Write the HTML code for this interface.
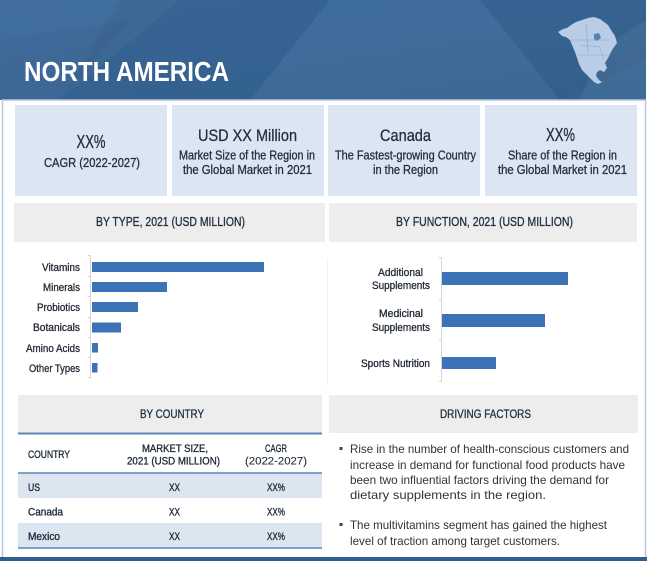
<!DOCTYPE html>
<html>
<head>
<meta charset="utf-8">
<style>
html,body{margin:0;padding:0;background:#fff;}
svg{display:block;}
text{font-family:"Liberation Sans",Arial,sans-serif;}
</style>
</head>
<body>
<svg width="650" height="567" viewBox="0 0 650 567" xmlns="http://www.w3.org/2000/svg">
  <defs>
    <linearGradient id="hg" x1="0" y1="0" x2="1" y2="1">
      <stop offset="0" stop-color="#3a699a"/>
      <stop offset="0.5" stop-color="#386797"/>
      <stop offset="1" stop-color="#33628f"/>
    </linearGradient>
  </defs>
  <rect width="650" height="567" fill="#ffffff"/>

  <!-- header banner -->
  <rect x="0" y="0" width="646" height="100" fill="url(#hg)"/>
  <polygon points="0,0 180,0 60,100 0,100" fill="#ffffff" opacity="0.04"/>
  <polygon points="120,0 330,0 250,100 60,100" fill="#000000" opacity="0.04"/>
  <polygon points="330,0 480,0 560,100 250,100" fill="#ffffff" opacity="0.035"/>
  <polygon points="480,0 646,0 646,60 560,100" fill="#000000" opacity="0.035"/>
  <polygon points="600,50 646,20 646,100 580,100" fill="#ffffff" opacity="0.06"/>
  <polygon points="0,40 130,20 60,100 0,100" fill="#000000" opacity="0.03"/>
  <text x="24" y="81" font-size="28" font-weight="bold" fill="#ffffff" textLength="205" lengthAdjust="spacingAndGlyphs">NORTH AMERICA</text>

  <!-- map -->
  <polygon points="558,32 563,29 567,28 571,25 576,22 582,20 588,18 594,17 600,19 604,22 608,25 611,30 615,36 617,43 614,47 611,52 608,58 605,63 607,68 604,72 600,70 597,72 596,76 599,80 602,82 598,84 594,82 590,78 586,74 582,70 579,64 577,58 575,52 572,45 570,40 566,37 562,36" fill="#b9cde6"/>
  <polygon points="594,34 599,33 601,38 597,41 594,39" fill="#5a82ad"/>
  <polyline points="571,40 610,40" stroke="#86a5c8" stroke-width="0.6" fill="none"/>
  <polyline points="577,55 607,55" stroke="#86a5c8" stroke-width="0.6" fill="none"/>
  <polyline points="586,24 588,52" stroke="#86a5c8" stroke-width="0.6" fill="none"/>
  <polyline points="580,45 600,47 604,60" stroke="#86a5c8" stroke-width="0.5" fill="none"/>

  <!-- outer container border -->
  <rect x="2.5" y="100" width="643" height="458" fill="none" stroke="#b4c8de" stroke-width="1.5"/>
  <!-- bottom bar -->
  <rect x="0" y="557" width="647" height="4" fill="#2f5d8e"/>

  <!-- stat boxes -->
  <rect x="15" y="105" width="152" height="91" fill="#dce6f2"/>
  <rect x="172" y="105" width="152" height="91" fill="#dce6f2"/>
  <rect x="328" y="105" width="152" height="91" fill="#dce6f2"/>
  <rect x="485" y="105" width="152" height="91" fill="#dce6f2"/>

  <g fill="#1f2f40" stroke="#1f2f40" stroke-width="0.3">
    <text x="76.5" y="148" font-size="18" textLength="29" lengthAdjust="spacingAndGlyphs">XX%</text>
    <text x="44" y="167" font-size="12.5" textLength="96" lengthAdjust="spacingAndGlyphs">CAGR (2022-2027)</text>

    <text x="198" y="141" font-size="17" textLength="99" lengthAdjust="spacingAndGlyphs">USD XX Million</text>
    <text x="179" y="159.5" font-size="12.5" textLength="136" lengthAdjust="spacingAndGlyphs">Market Size of the Region in</text>
    <text x="183" y="174" font-size="12.5" textLength="129" lengthAdjust="spacingAndGlyphs">the Global Market in 2021</text>

    <text x="380" y="141" font-size="17" textLength="51" lengthAdjust="spacingAndGlyphs">Canada</text>
    <text x="335" y="159.5" font-size="12.5" textLength="141" lengthAdjust="spacingAndGlyphs">The Fastest-growing Country</text>
    <text x="373" y="174" font-size="12.5" textLength="65" lengthAdjust="spacingAndGlyphs">in the Region</text>

    <text x="546" y="141" font-size="18" textLength="29" lengthAdjust="spacingAndGlyphs">XX%</text>
    <text x="508" y="159.5" font-size="12.5" textLength="109" lengthAdjust="spacingAndGlyphs">Share of the Region in</text>
    <text x="498" y="174" font-size="12.5" textLength="129" lengthAdjust="spacingAndGlyphs">the Global Market in 2021</text>
  </g>

  <!-- section headers -->
  <rect x="14" y="203" width="311" height="39" fill="#ededed"/>
  <rect x="329" y="203" width="308" height="39" fill="#ededed"/>
  <g fill="#1f2f40" font-size="12.5" stroke="#1f2f40" stroke-width="0.3">
    <text x="96" y="226" textLength="149" lengthAdjust="spacingAndGlyphs">BY TYPE, 2021 (USD MILLION)</text>
    <text x="396" y="226" textLength="177" lengthAdjust="spacingAndGlyphs">BY FUNCTION, 2021 (USD MILLION)</text>
  </g>

  <!-- left chart -->
  <line x1="90.5" y1="255" x2="90.5" y2="378" stroke="#d6d6d6" stroke-width="1"/>
  <g stroke="#d6d6d6" stroke-width="1">
    <line x1="88" y1="255.5" x2="90.5" y2="255.5"/>
    <line x1="88" y1="276.5" x2="90.5" y2="276.5"/>
    <line x1="88" y1="296.5" x2="90.5" y2="296.5"/>
    <line x1="88" y1="317.5" x2="90.5" y2="317.5"/>
    <line x1="88" y1="337.5" x2="90.5" y2="337.5"/>
    <line x1="88" y1="357.5" x2="90.5" y2="357.5"/>
    <line x1="88" y1="377.5" x2="90.5" y2="377.5"/>
  </g>
  <g fill="#3b73b6">
    <rect x="92" y="262" width="172" height="10"/>
    <rect x="92" y="282" width="75" height="10"/>
    <rect x="92" y="302" width="46" height="10"/>
    <rect x="92" y="322.5" width="29" height="10"/>
    <rect x="92" y="343" width="6" height="9.5"/>
    <rect x="92" y="363" width="5.5" height="9.5"/>
  </g>
  <g fill="#222a35" font-size="11" stroke="#222a35" stroke-width="0.3">
    <text x="42" y="271" textLength="38" lengthAdjust="spacingAndGlyphs">Vitamins</text>
    <text x="43" y="291" textLength="37" lengthAdjust="spacingAndGlyphs">Minerals</text>
    <text x="37" y="311" textLength="43" lengthAdjust="spacingAndGlyphs">Probiotics</text>
    <text x="33" y="331" textLength="47" lengthAdjust="spacingAndGlyphs">Botanicals</text>
    <text x="26" y="352" textLength="54" lengthAdjust="spacingAndGlyphs">Amino Acids</text>
    <text x="29" y="372" textLength="51" lengthAdjust="spacingAndGlyphs">Other Types</text>
  </g>

  <!-- right chart -->
  <line x1="327.5" y1="258" x2="327.5" y2="385" stroke="#f0f0f0" stroke-width="1"/>
  <line x1="441.5" y1="257" x2="441.5" y2="382" stroke="#d6d6d6" stroke-width="1"/>
  <g stroke="#d6d6d6" stroke-width="1">
    <line x1="439" y1="257.5" x2="441.5" y2="257.5"/>
    <line x1="439" y1="299.5" x2="441.5" y2="299.5"/>
    <line x1="439" y1="340.5" x2="441.5" y2="340.5"/>
    <line x1="439" y1="381.5" x2="441.5" y2="381.5"/>
  </g>
  <g fill="#3b73b6">
    <rect x="442" y="272" width="126" height="13"/>
    <rect x="442" y="314" width="103" height="13"/>
    <rect x="442" y="357" width="54" height="12"/>
  </g>
  <g fill="#222a35" font-size="11" stroke="#222a35" stroke-width="0.3">
    <text x="378" y="276" textLength="45" lengthAdjust="spacingAndGlyphs">Additional</text>
    <text x="372" y="289" textLength="58" lengthAdjust="spacingAndGlyphs">Supplements</text>
    <text x="379" y="317" textLength="44" lengthAdjust="spacingAndGlyphs">Medicinal</text>
    <text x="372" y="331" textLength="58" lengthAdjust="spacingAndGlyphs">Supplements</text>
    <text x="361" y="367" textLength="69" lengthAdjust="spacingAndGlyphs">Sports Nutrition</text>
  </g>

  <!-- by country -->
  <rect x="18" y="395" width="304" height="38" fill="#ededed"/>
  <rect x="329" y="395" width="309" height="38" fill="#ededed"/>
  <g fill="#1f2f40" font-size="12" stroke="#1f2f40" stroke-width="0.3">
    <text x="140" y="418" textLength="64" lengthAdjust="spacingAndGlyphs">BY COUNTRY</text>
    <text x="440" y="418" textLength="91" lengthAdjust="spacingAndGlyphs">DRIVING FACTORS</text>
  </g>

  <rect x="18" y="473" width="304" height="25" fill="#dce6f1"/>
  <rect x="18" y="523" width="304" height="25" fill="#dce6f1"/>
  <line x1="18" y1="433.5" x2="322" y2="433.5" stroke="#5a86b8" stroke-width="2"/>
  <line x1="18" y1="473" x2="322" y2="473" stroke="#5a86b8" stroke-width="1.5"/>
  <line x1="18" y1="548" x2="322" y2="548" stroke="#5a86b8" stroke-width="1.5"/>

  <g fill="#1f2a38" font-size="11" stroke="#1f2a38" stroke-width="0.35">
    <text x="28" y="458" textLength="42" lengthAdjust="spacingAndGlyphs">COUNTRY</text>
    <text x="142" y="452" textLength="66" lengthAdjust="spacingAndGlyphs">MARKET SIZE,</text>
    <text x="127" y="464.5" textLength="93" lengthAdjust="spacingAndGlyphs">2021 (USD MILLION)</text>
    <text x="265" y="452" textLength="22" lengthAdjust="spacingAndGlyphs">CAGR</text>
    <text x="245" y="464.5" textLength="62" lengthAdjust="spacingAndGlyphs" stroke-width="0.1">(2022-2027)</text>

    <text x="28" y="491" textLength="12" lengthAdjust="spacingAndGlyphs">US</text>
    <text x="169" y="491" textLength="11" lengthAdjust="spacingAndGlyphs">XX</text>
    <text x="267" y="491" textLength="18" lengthAdjust="spacingAndGlyphs">XX%</text>

    <text x="28" y="515.5" textLength="35" lengthAdjust="spacingAndGlyphs">Canada</text>
    <text x="169" y="515.5" textLength="11" lengthAdjust="spacingAndGlyphs">XX</text>
    <text x="267" y="515.5" textLength="18" lengthAdjust="spacingAndGlyphs">XX%</text>

    <text x="28" y="540" textLength="32" lengthAdjust="spacingAndGlyphs">Mexico</text>
    <text x="169" y="540" textLength="11" lengthAdjust="spacingAndGlyphs">XX</text>
    <text x="267" y="540" textLength="18" lengthAdjust="spacingAndGlyphs">XX%</text>
  </g>

  <!-- driving factors -->
  <rect x="339.5" y="447" width="3" height="3" fill="#444"/>
  <rect x="339.5" y="523" width="3" height="3" fill="#444"/>
  <g fill="#333" font-size="12">
    <text x="350" y="453" textLength="279" lengthAdjust="spacingAndGlyphs">Rise in the number of health-conscious customers and</text>
    <text x="350" y="469" textLength="275" lengthAdjust="spacingAndGlyphs">increase in demand for functional food products have</text>
    <text x="350" y="484" textLength="259" lengthAdjust="spacingAndGlyphs">been two influential factors driving the demand for</text>
    <text x="350" y="499" textLength="196" lengthAdjust="spacingAndGlyphs">dietary supplements in the region.</text>
    <text x="350" y="529" textLength="257" lengthAdjust="spacingAndGlyphs">The multivitamins segment has gained the highest</text>
    <text x="350" y="545" textLength="210" lengthAdjust="spacingAndGlyphs">level of traction among target customers.</text>
  </g>
</svg>
</body>
</html>
